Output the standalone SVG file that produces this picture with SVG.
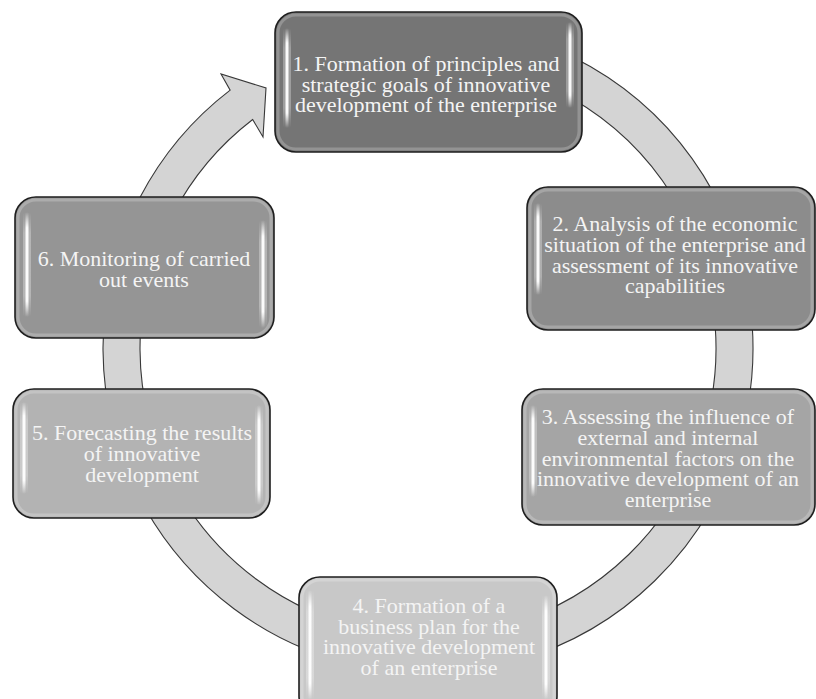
<svg xmlns="http://www.w3.org/2000/svg" width="816" height="699" viewBox="0 0 816 699">
<style>
.box{stroke:#1e1e1e;stroke-width:1.6}
.rim{fill:none;stroke:#ffffff;stroke-opacity:0.22;stroke-width:3}
.hl{fill:url(#hlg)}
.halo{fill:url(#halog)}
.t{font-family:"Liberation Serif","Times New Roman",serif;font-size:22px;fill:#f4f4f4;text-anchor:middle}
.ring{fill:#d4d4d4;stroke:#383838;stroke-width:1.1;stroke-linejoin:miter}
</style>
<defs>
<linearGradient id="hlg" x1="0" y1="0" x2="0" y2="1">
<stop offset="0" stop-color="#ffffff" stop-opacity="0"/>
<stop offset="0.15" stop-color="#ffffff" stop-opacity="0.95"/>
<stop offset="0.85" stop-color="#ffffff" stop-opacity="0.95"/>
<stop offset="1" stop-color="#ffffff" stop-opacity="0"/>
</linearGradient>
<linearGradient id="halog" x1="0" y1="0" x2="0" y2="1">
<stop offset="0" stop-color="#ffffff" stop-opacity="0"/>
<stop offset="0.2" stop-color="#ffffff" stop-opacity="0.3"/>
<stop offset="0.8" stop-color="#ffffff" stop-opacity="0.3"/>
<stop offset="1" stop-color="#ffffff" stop-opacity="0"/>
</linearGradient>
</defs>
<rect width="816" height="699" fill="#ffffff"/>
<g id="connectors">
<path class="ring" d="M 456.33 24.24 A 325 325 0 1 1 230.15 90.16 L 221 74 L 266 88 L 263 137 L 252.68 119.52 A 288 288 0 1 0 453.10 61.10 Z"/>
</g>
<g id="node1">
<rect class="box" x="275" y="12" width="307" height="140" rx="21" fill="#757575"/>
<rect class="rim" x="278" y="15" width="301" height="134" rx="18"/>
<rect class="halo" x="283" y="28" width="8" height="100" rx="3"/>
<rect class="hl" x="285.5" y="28" width="3" height="100" rx="1.5"/>
<rect class="halo" x="566" y="22" width="8" height="86" rx="3"/>
<rect class="hl" x="568.5" y="22" width="3" height="86" rx="1.5"/>
<text class="t" x="426" y="71">1. Formation of principles and</text>
<text class="t" x="426" y="91.5">strategic goals of innovative</text>
<text class="t" x="426" y="112">development of the enterprise</text>
</g>
<g id="node2">
<rect class="box" x="527" y="187" width="288" height="143" rx="21" fill="#8c8c8c"/>
<rect class="rim" x="530" y="190" width="282" height="137" rx="18"/>
<rect class="halo" x="534" y="203" width="8" height="92" rx="3"/>
<rect class="hl" x="536.5" y="203" width="3" height="92" rx="1.5"/>
<text class="t" x="675" y="231">2. Analysis of the economic</text>
<text class="t" x="675" y="252">situation of the enterprise and</text>
<text class="t" x="675" y="272.5">assessment of its innovative</text>
<text class="t" x="675" y="293">capabilities</text>
</g>
<g id="node3">
<rect class="box" x="522" y="389" width="293" height="136" rx="21" fill="#a5a5a5"/>
<rect class="rim" x="525" y="392" width="287" height="130" rx="18"/>
<rect class="halo" x="529" y="405" width="8" height="92" rx="3"/>
<rect class="hl" x="531.5" y="405" width="3" height="92" rx="1.5"/>
<text class="t" x="668" y="424">3. Assessing the influence of</text>
<text class="t" x="668" y="445">external and internal</text>
<text class="t" x="668" y="465.5">environmental factors on the</text>
<text class="t" x="668" y="486">innovative development of an</text>
<text class="t" x="668" y="507">enterprise</text>
</g>
<g id="node4">
<rect class="box" x="299" y="577" width="258" height="140" rx="21" fill="#c8c8c8"/>
<rect class="rim" x="302" y="580" width="252" height="134" rx="18"/>
<rect class="halo" x="306" y="590" width="8" height="110" rx="3"/>
<rect class="hl" x="308.5" y="590" width="3" height="110" rx="1.5"/>
<rect class="halo" x="542" y="595" width="8" height="105" rx="3"/>
<rect class="hl" x="544.5" y="595" width="3" height="105" rx="1.5"/>
<text class="t" x="429" y="613">4. Formation of a</text>
<text class="t" x="429" y="633.5">business plan for the</text>
<text class="t" x="429" y="654">innovative development</text>
<text class="t" x="429" y="674.5">of an enterprise</text>
</g>
<g id="node5">
<rect class="box" x="13" y="389" width="257" height="129" rx="21" fill="#b3b3b3"/>
<rect class="rim" x="16" y="392" width="251" height="123" rx="18"/>
<rect class="halo" x="20" y="402" width="8" height="92" rx="3"/>
<rect class="hl" x="22.5" y="402" width="3" height="92" rx="1.5"/>
<rect class="halo" x="255" y="405" width="8" height="100" rx="3"/>
<rect class="hl" x="257.5" y="405" width="3" height="100" rx="1.5"/>
<text class="t" x="142" y="440">5. Forecasting the results</text>
<text class="t" x="142" y="461">of innovative</text>
<text class="t" x="142" y="482">development</text>
</g>
<g id="node6">
<rect class="box" x="15" y="197" width="259" height="141" rx="21" fill="#959595"/>
<rect class="rim" x="18" y="200" width="253" height="135" rx="18"/>
<rect class="halo" x="23" y="212" width="8" height="105" rx="3"/>
<rect class="hl" x="25.5" y="212" width="3" height="105" rx="1.5"/>
<rect class="halo" x="259" y="220" width="8" height="108" rx="3"/>
<rect class="hl" x="261.5" y="220" width="3" height="108" rx="1.5"/>
<text class="t" x="144" y="266">6. Monitoring of carried</text>
<text class="t" x="144" y="287">out events</text>
</g>
</svg>
